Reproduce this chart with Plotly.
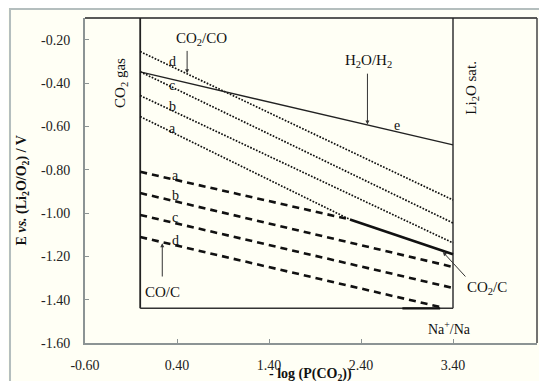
import plotly.graph_objects as go

# ---- data ----
co2co_a_x = [0.0, 2.28]; co2co_a_y = [-0.555, -1.03]
co2co_b_x = [0.0, 3.40]; co2co_b_y = [-0.458, -1.138]
co2co_c_x = [0.0, 3.40]; co2co_c_y = [-0.348, -1.046]
co2co_d_x = [0.0, 3.40]; co2co_d_y = [-0.255, -0.940]

coc_a_x = [0.0, 2.28]; coc_a_y = [-0.810, -1.030]
coc_b_x = [0.0, 3.40]; coc_b_y = [-0.908, -1.249]
coc_c_x = [0.0, 3.40]; coc_c_y = [-1.009, -1.346]
coc_d_x = [0.0, 3.26]; coc_d_y = [-1.111, -1.434]

co2c_x = [2.28, 3.40]; co2c_y = [-1.030, -1.190]
h2o_x = [0.0, 3.40]; h2o_y = [-0.349, -0.686]
na_x = [2.85, 3.26]; na_y = [-1.440, -1.440]

box_left_x = [0.0, 0.0]; box_left_y = [-1.44, -0.10]
box_right_x = [3.40, 3.40]; box_right_y = [-1.44, -0.10]
box_bottom_x = [0.0, 3.40]; box_bottom_y = [-1.44, -1.44]

x_ticks = [-0.6, 0.4, 1.4, 2.4, 3.4]
x_tick_text = ["-0.60", "0.40", "1.40", "2.40", "3.40"]
y_ticks = [-0.2, -0.4, -0.6, -0.8, -1.0, -1.2, -1.4, -1.6]
y_tick_text = ["-0.20", "-0.40", "-0.60", "-0.80", "-1.00", "-1.20", "-1.40", "-1.60"]

FONT = "Liberation Serif, Times New Roman, serif"
BG = "#FFFFF5"

fig = go.Figure()

def add_line(x, y, width, dash="solid", color="#111"):
    fig.add_trace(go.Scatter(x=x, y=y, mode="lines", showlegend=False, hoverinfo="skip",
                             line=dict(color=color, width=width, dash=dash)))

# inner box
add_line(box_left_x, box_left_y, 1.8, color="#222")
add_line(box_right_x, box_right_y, 1.5, color="#333")
add_line(box_bottom_x, box_bottom_y, 1.5, color="#333")

# CO2/CO dotted lines
for xs, ys in [(co2co_a_x, co2co_a_y), (co2co_b_x, co2co_b_y),
               (co2co_c_x, co2co_c_y), (co2co_d_x, co2co_d_y)]:
    add_line(xs, ys, 1.7, dash="1.7px,1.5px")

# CO/C dashed lines
for xs, ys in [(coc_a_x, coc_a_y), (coc_b_x, coc_b_y),
               (coc_c_x, coc_c_y), (coc_d_x, coc_d_y)]:
    add_line(xs, ys, 2.6, dash="7px,5px")

# CO2/C solid
add_line(co2c_x, co2c_y, 2.6)
# H2O/H2 line
add_line(h2o_x, h2o_y, 1.3, color="#222")
# Na+/Na
add_line(na_x, na_y, 2.2)

ann = []
def txt(x, y, t, size=15, angle=0):
    ann.append(dict(x=x, y=y, xref="x", yref="y", text=t, showarrow=False,
                    xanchor="center", yanchor="middle",
                    textangle=angle, font=dict(family=FONT, size=size, color="#111")))

def arrow(x, y, ax, ay):
    ann.append(dict(x=x, y=y, ax=ax, ay=ay, xref="x", yref="y", axref="x", ayref="y",
                    text="", showarrow=True, arrowhead=2, arrowsize=0.8,
                    arrowwidth=1, arrowcolor="#333"))

# letters
for lab, yy in zip(["d", "c", "b", "a"], [-0.30, -0.41, -0.51, -0.61]):
    txt(0.35, yy, lab, size=14)
for lab, yy in zip(["a", "b", "c", "d"], [-0.825, -0.92, -1.02, -1.125]):
    txt(0.38, yy, lab, size=14)
txt(2.79, -0.594, "e", size=14)

txt(0.67, -0.195, "CO<sub>2</sub>/CO")
arrow(0.51, -0.355, 0.51, -0.245)
txt(2.48, -0.30, "H<sub>2</sub>O/H<sub>2</sub>")
arrow(2.47, -0.592, 2.47, -0.35)
txt(0.24, -1.365, "CO/C")
arrow(0.24, -1.14, 0.24, -1.30)
txt(3.77, -1.346, "CO<sub>2</sub>/C")
arrow(3.29, -1.18, 3.55, -1.30)
txt(3.36, -1.53, "Na<sup>+</sup>/Na", size=14)
txt(-0.21, -0.40, "CO<sub>2</sub> gas", angle=-90)
txt(3.61, -0.42, "Li<sub>2</sub>O sat.", angle=-90)

# axis titles
ann.append(dict(x=0.498, y=-0.098, xref="paper", yref="paper", showarrow=False,
                xanchor="center", yanchor="middle",
                text="<b>- log (P(CO<sub>2</sub>))</b>",
                font=dict(family=FONT, size=14, color="#111")))
ann.append(dict(x=-0.139, y=0.47, xref="paper", yref="paper", showarrow=False, textangle=-90,
                xanchor="center", yanchor="middle",
                text="<b>E <i>vs.</i> (Li<sub>2</sub>O/O<sub>2</sub>) / V</b>",
                font=dict(family=FONT, size=14, color="#111")))

shapes = [
    # outer frame
    dict(type="rect", xref="paper", yref="paper", x0=-0.1659, y0=-0.16, x1=1.2, y1=1.028,
         line=dict(color="#B4BEBE", width=2), fillcolor="rgba(0,0,0,0)", layer="below"),
    # top and right frame of plot area
    dict(type="line", xref="paper", yref="paper", x0=0, y0=1, x1=1, y1=1,
         line=dict(color="#222", width=1.5)),
    dict(type="line", xref="paper", yref="paper", x0=1, y0=0, x1=1, y1=1,
         line=dict(color="#444", width=1.5)),
]

# page body adds 8px offset: figure is sized to fill the rest of the window
fig.update_layout(
    width=539, height=373,
    margin=dict(l=77, r=10, t=10, b=38),
    paper_bgcolor=BG, plot_bgcolor=BG,
    font=dict(family=FONT, size=14, color="#222"),
    annotations=ann, shapes=shapes,
    showlegend=False,
)
fig.update_xaxes(range=[-0.6, 4.313], tickvals=x_ticks, ticktext=x_tick_text, automargin=False,
                 showgrid=False, zeroline=False, showline=True, linecolor="#8C9494", linewidth=2,
                 ticks="inside", ticklen=4, tickcolor="#8C9494", ticklabelstandoff=8,
                 tickfont=dict(family=FONT, size=14, color="#222"))
fig.update_yaxes(range=[-1.6, -0.1], tickvals=y_ticks, ticktext=y_tick_text, automargin=False,
                 showgrid=False, zeroline=False, showline=True, linecolor="#8C9494", linewidth=2,
                 ticks="inside", ticklen=4, tickcolor="#8C9494", ticklabelstandoff=10,
                 tickfont=dict(family=FONT, size=14, color="#222"))

fig.write_html("out.html")
